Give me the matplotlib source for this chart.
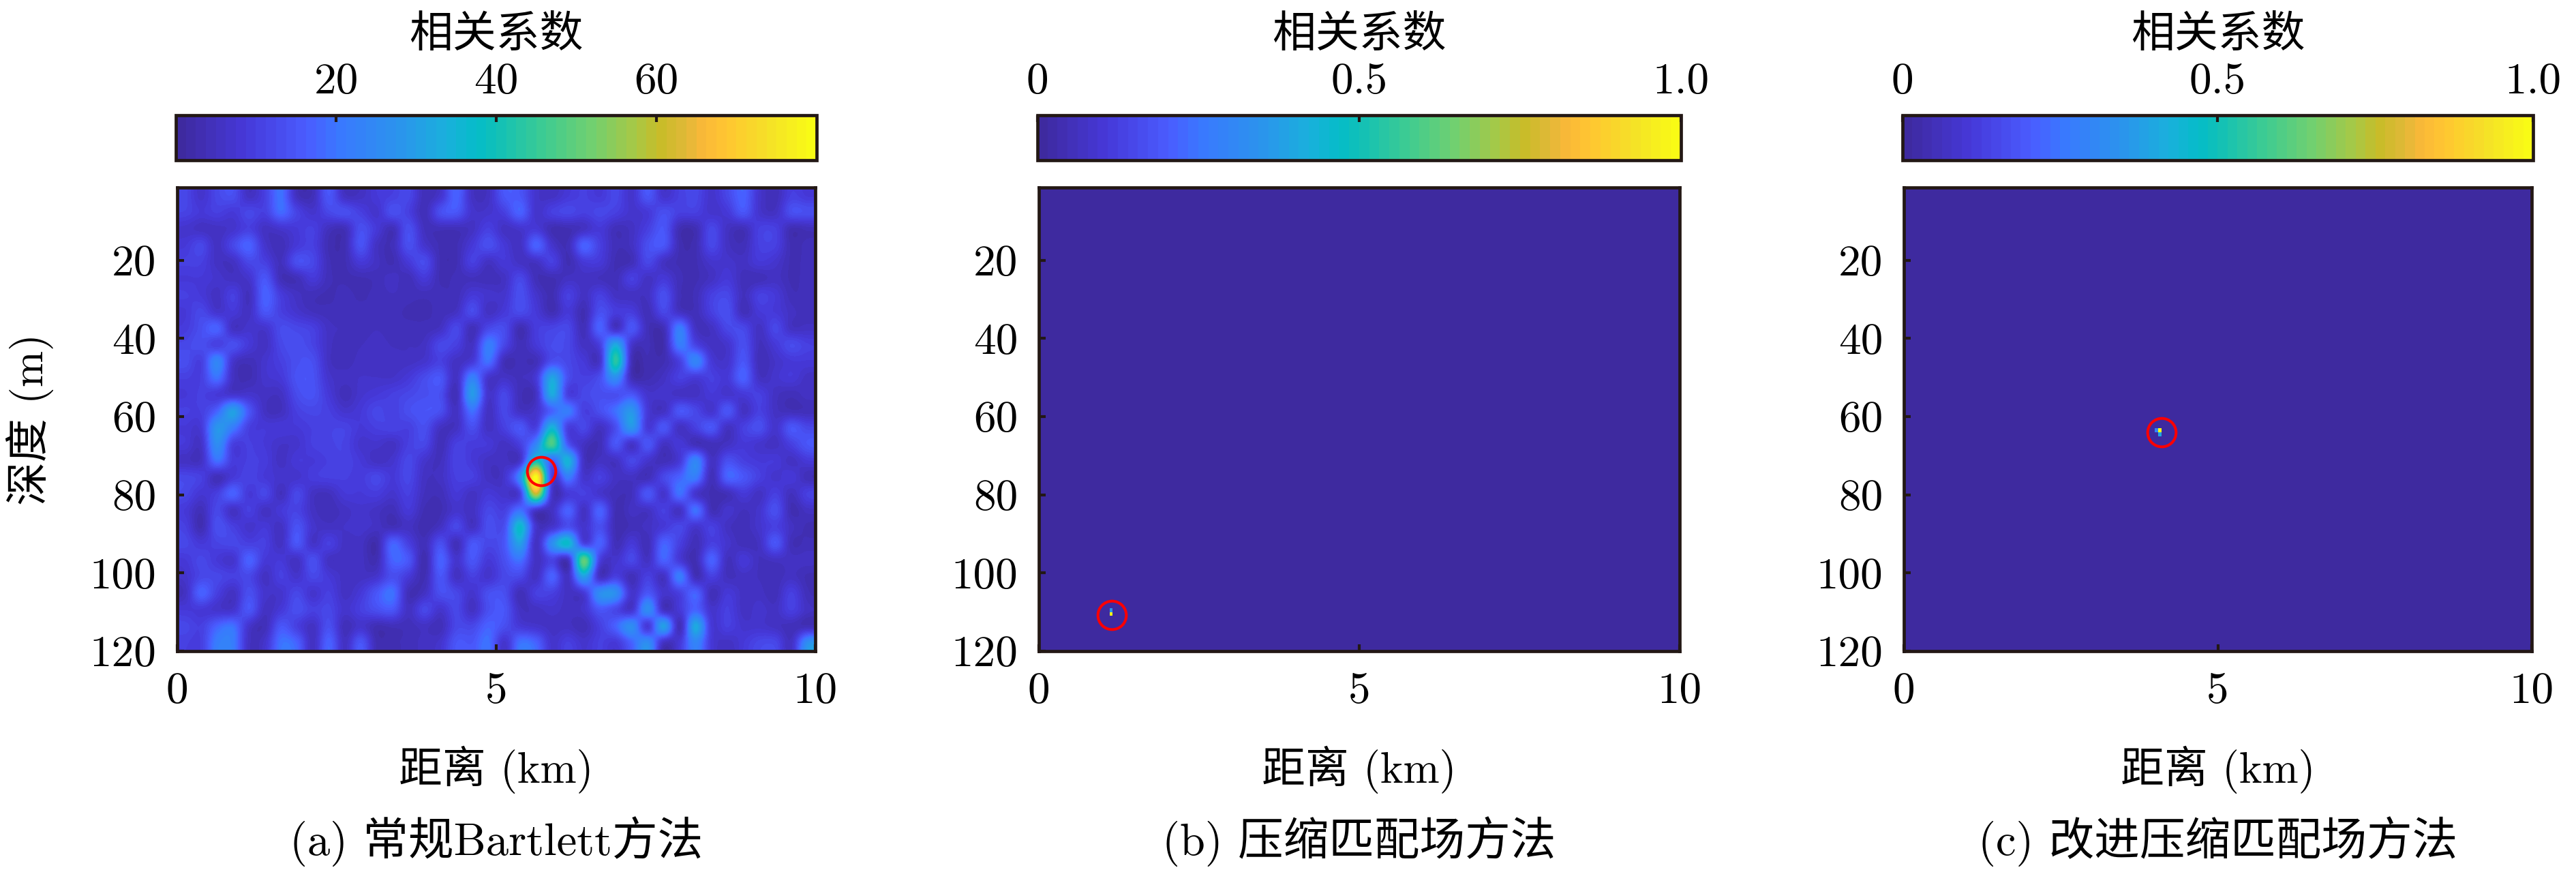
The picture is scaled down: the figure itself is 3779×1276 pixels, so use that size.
import numpy as np
import matplotlib
matplotlib.use('Agg')
import matplotlib.pyplot as plt
from matplotlib.colors import LinearSegmentedColormap

plt.rcParams['font.family'] = ['cmr10', 'Noto Sans CJK SC', 'DejaVu Sans']
plt.rcParams['axes.formatter.use_mathtext'] = True

# correlation, rows top to bottom, columns left to right
bartlett = np.array([
    [16,10,16,18,8,14,24,7,6,20,8,8,12,14, 16,6,10,22,8,8,20,20,10,8,12,14,12, 16,10,20,10,14,16,10,16,22,10,6,14,12],
    [15,12,14,12,16,14,23,15,10,16,18,14,10,18, 14,6,18,20,10,10,14,22,10,14,16,14,16, 14,10,12,18,14,14,10,12,20,10,8,18,18],
    [10,8,8,10,14,8,10,12,14,7,6,18,12,6, 18,7,6,6,8,14,8,10,12,5,5,8,12, 6,8,14,20,5,5,16,8,6,14,14,5,6],
    [12,16,8,16,22,10,6,12,14,5,5,19,8,6, 18,10,5,5,12,18,12,8,22,10,6,22,14, 6,8,18,20,5,5,16,8,6,14,14,5,6],
    [14,14,8,8,16,14,7,18,16,6,5,12,8,5, 12,17,5,5,14,8,12,8,8,14,5,12,12, 5,6,16,8,5,5,10,10,8,12,10,5,6],
    [12,12,10,8,10,20,6,6,12,6,5,5,6,8, 6,12,5,6,7,6,8,16,6,5,8,8,7, 6,14,8,12,6,5,8,12,6,6,8,5,6],
    [14,12,8,14,7,22,13,8,6,5,6,5,6,7, 6,6,6,6,12,10,10,18,10,5,14,8,14, 8,8,8,18,6,6,14,16,7,14,12,6,6],
    [12,16,10,12,8,20,14,10,7,6,6,6,6,6, 5,5,6,8,17,8,12,17,12,5,12,5,18, 13,13,6,16,8,6,14,18,6,12,12,8,6],
    [13,18,22,8,10,10,17,16,14,8,7,6,7,6, 6,6,8,16,6,16,17,5,13,15,16,6,22, 8,20,6,6,26,8,8,16,16,8,16,8,8],
    [16,18,14,18,12,8,16,18,15,8,6,7,8,7, 7,8,16,14,8,26,16,6,12,17,16,8,14, 36,10,6,4,26,15,8,10,18,7,12,17,14],
    [18,14,28,10,6,10,14,18,18,8,6,8,8,8, 8,10,14,8,12,24,6,6,6,18,16,12,10, 46,6,5,5,14,28,12,10,20,6,9,12,12],
    [14,14,24,8,5,10,12,19,19,10,8,9,9,9, 12,17,20,8,27,10,9,7,12,35,18,14,18, 30,6,5,8,14,12,14,12,22,8,10,12,8],
    [12,14,12,10,10,8,8,17,19,12,6,10,12,14, 16,18,18,6,33,10,16,6,8,36,14,16,18, 18,20,10,10,8,8,12,10,12,14,8,6,8],
    [14,14,22,34,20,8,7,14,16,14,10,12,16,14, 18,20,18,8,24,8,16,8,10,22,26,14,18, 24,32,12,8,20,16,10,20,8,14,8,6,6],
    [12,12,32,26,14,12,12,12,14,15,15,12,14,15, 14,18,8,8,18,8,14,20,14,38,14,16,8, 18,32,12,20,8,14,20,8,14,18,10,20,16],
    [12,9,30,14,14,12,9,10,14,15,15,10,10,8, 14,16,6,14,13,12,8,14,28,50,20,8,6, 20,9,20,8,12,6,6,8,12,10,8,14,20],
    [8,8,24,13,14,13,8,12,12,14,15,12,8,10, 16,10,7,15,12,8,8,10,42,22,38,8,8, 8,16,10,6,12,28,8,18,14,12,12,8,12],
    [16,14,6,12,15,12,10,10,13,14,14,13,16,12, 16,8,8,14,14,8,10,30,80,14,26,10,14, 8,8,6,16,22,26,6,22,20,14,10,12,6],
    [16,11,14,22,12,16,7,16,8,7,12,12,13,10, 14,7,6,12,8,12,10,14,62,10,12,14,10, 6,7,20,10,24,10,5,6,12,8,14,7,14],
    [12,6,16,8,14,8,12,15,8,6,8,10,8,6, 12,5,5,10,8,16,14,24,10,8,22,8,22, 5,8,8,14,8,24,6,10,7,10,18,5,8],
    [14,5,18,14,10,12,8,19,10,8,9,10,8,6, 8,4,8,16,8,18,18,40,10,10,18,10,18, 5,6,8,12,16,10,14,8,6,10,14,8,5],
    [16,12,15,16,14,14,8,20,9,14,8,8,4,22, 14,6,18,6,20,16,20,34,8,30,40,15,22, 6,12,6,22,14,6,14,10,6,8,20,6,6],
    [12,16,12,10,22,12,12,8,18,8,8,8,5,22, 20,4,22,10,20,12,18,24,8,15,8,52,14, 10,16,8,22,12,5,22,7,12,7,8,8,8],
    [10,16,16,14,16,8,14,10,16,12,8,8,10,18, 12,5,20,8,14,10,16,16,8,22,8,34,8, 14,6,14,8,26,6,14,7,8,7,6,8,5],
    [8,22,14,8,18,10,10,16,10,14,8,12,20,24, 6,8,18,16,10,18,18,6,14,14,8,12,30, 30,10,20,10,14,22,6,12,8,8,6,14,6],
    [12,12,10,10,20,8,12,18,14,16,10,14,18,20, 8,16,10,16,8,18,20,8,8,10,8,10,20, 16,10,30,8,12,22,10,14,8,10,8,14,8],
    [16,14,22,24,10,6,20,14,8,18,6,10,5,6, 6,8,6,16,16,22,18,12,10,8,8,6,14, 22,30,12,34,6,36,12,14,10,10,8,6,6],
    [14,14,26,26,8,10,24,22,8,22,8,20,5,5, 6,8,10,20,20,24,10,24,22,10,14,10,14, 12,22,30,8,12,28,12,8,12,16,16,8,30],
], dtype=float)

# my reading of the blues came out a little high, pull them down
bartlett = np.interp(bartlett, [0, 10, 20, 30, 80], [0, 7, 15, 26, 80])

# the single bright cells of panels (b) and (c): km, m, value
peaks_b = [(1.12, 110, 1.0), (1.12, 109, 0.35)]
peaks_c = [(4.07, 63, 1.0), (4.02, 63, 0.3), (4.07, 64, 0.4)]

targets = [(5.7, 73.9), (1.14, 110.8), (4.1, 64.0)]
cbar_ticks = [[20, 40, 60], [0, 0.5, 1.0], [0, 0.5, 1.0]]
cbar_ticklabels = [['20', '40', '60'], ['0', '0.5', '1.0'], ['0', '0.5', '1.0']]
x_ticks = [0, 5, 10]
y_ticks = [20, 40, 60, 80, 100, 120]
captions = ['(a) 常规Bartlett方法', '(b) 压缩匹配场方法', '(c) 改进压缩匹配场方法']

parula = LinearSegmentedColormap.from_list('parula_ish', [
    (0.0, '#3e2a9f'), (0.1, '#4638d8'), (0.2, '#4a5cff'), (0.25, '#3a78ff'),
    (0.35, '#2a95ec'), (0.42, '#1ab0dc'), (0.47, '#05bcc8'), (0.5, '#10c0b8'),
    (0.58, '#40cc90'), (0.65, '#70d070'), (0.72, '#a8c845'), (0.76, '#c8bc28'),
    (0.8, '#e0b838'), (0.83, '#fbb838'), (0.87, '#ffc830'), (0.93, '#f5e028'),
    (1.0, '#f9fb15')], N=64)

W, H = 3780, 1276
ink = '#231815'
fig = plt.figure(figsize=(W / 100, H / 100), dpi=100)


def box(x0, y0, x1, y1):
    return [x0 / W, 1 - y1 / H, (x1 - x0) / W, (y1 - y0) / H]


def style(ax):
    for s in ax.spines.values():
        s.set_linewidth(3.4)
        s.set_color(ink)


def sparse_field(peaks):
    f = np.zeros((120, 200))
    for km, m, v in peaks:
        f[int(m), int(km * 20)] = v
    return f


fields = [bartlett, sparse_field(peaks_b), sparse_field(peaks_c)]
ranges = [(0, 80), (0, 1), (0, 1)]
lefts = [260, 1524, 2793]
rights = [1196, 2464, 3714]

for i in range(3):
    l, r = lefts[i], rights[i]
    ax = fig.add_axes(box(l, 275, r, 955))
    im = ax.imshow(fields[i], extent=(0, 10, 120, 1.4) if i == 0 else (0, 10, 120, 0),
                   aspect='auto', cmap=parula, vmin=ranges[i][0], vmax=ranges[i][1],
                   interpolation='catrom' if i == 0 else 'nearest')
    ax.set_xlim(0, 10)
    ax.set_ylim(120, 1.4)
    ax.set_xticks(x_ticks)
    ax.set_yticks(y_ticks)
    ax.set_xticklabels([str(v) for v in x_ticks])
    ax.set_yticklabels([str(v) for v in y_ticks])
    ax.tick_params(direction='in', length=7, width=3, colors=ink, labelcolor='black',
                   labelsize=47, pad=22)
    ax.set_xlabel('距离 (km)', fontsize=46, labelpad=36)
    if i == 0:
        ax.set_ylabel('深度 (m)', fontsize=46, labelpad=38)
    style(ax)
    ax.plot(targets[i][0], targets[i][1], 'o', mfc='none', mec='#ff0000', ms=30, mew=2.9)

    cax = fig.add_axes(box(l - 2, 169, r + 2, 235))
    cb = fig.colorbar(im, cax=cax, orientation='horizontal', ticklocation='top')
    cb.set_ticks(cbar_ticks[i])
    cb.set_ticklabels(cbar_ticklabels[i])
    cax.tick_params(direction='in', length=7, width=3, colors=ink, labelcolor='black',
                    labelsize=47, pad=14)
    cb.outline.set_linewidth(3.4)
    cb.outline.set_edgecolor(ink)
    cb.set_label('相关系数', fontsize=46, labelpad=16)

    fig.text((l + r) / 2 / W, 1 - 1234 / H, captions[i], fontsize=48, ha='center', va='center')

fig.savefig('out.png', dpi=100)
